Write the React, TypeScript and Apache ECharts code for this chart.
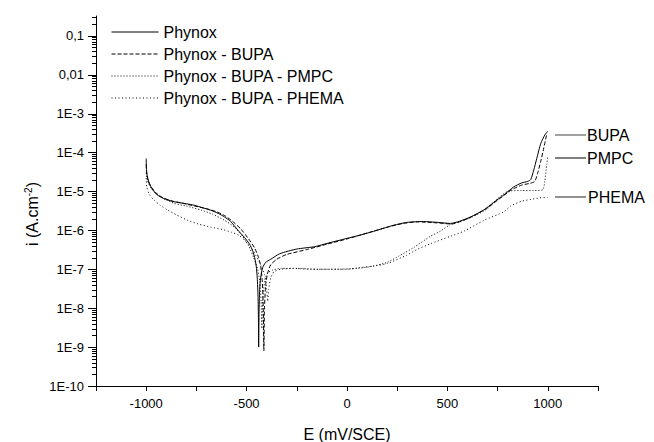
import React, { useEffect, useRef } from "react";
import * as echarts from "echarts";

const FONT = "'Liberation Sans', Arial, Helvetica, sans-serif";

const seriesNames = ["Phynox", "Phynox - BUPA", "Phynox - BUPA - PMPC", "Phynox - BUPA - PHEMA"];

const phynoxE = [-1000, -999, -995, -985, -970, -950, -925, -900, -860, -800, -760, -720, -680, -640, -610, -580, -543, -510, -485, -470, -460, -452, -447, -443, -441, -440, -438, -435, -430, -420, -405, -380, -335, -250, -160, -100, 0, 65, 150, 232, 300, 380, 450, 515, 560, 615, 680, 730, 780, 830, 870, 900, 915, 930, 945, 965, 985, 1000];
const phynoxI = [7e-5, 4e-5, 2.5e-5, 1.6e-5, 1.15e-5, 8.5e-6, 7e-6, 6.2e-6, 5.4e-6, 4.8e-6, 4.4e-6, 3.8e-6, 3.3e-6, 2.7e-6, 2.2e-6, 1.7e-6, 1e-6, 6.5e-7, 4.4e-7, 3e-7, 2e-7, 1.2e-7, 6e-8, 2e-8, 5e-9, 1e-9, 8e-9, 3e-8, 6e-8, 1.1e-7, 1.5e-7, 1.8e-7, 2.5e-7, 3.3e-7, 3.8e-7, 4.6e-7, 6.2e-7, 7.5e-7, 1.0e-6, 1.35e-6, 1.6e-6, 1.68e-6, 1.6e-6, 1.5e-6, 1.7e-6, 2.2e-6, 3.3e-6, 5.2e-6, 8e-6, 1.3e-5, 1.65e-5, 1.8e-5, 2e-5, 3.5e-5, 7e-5, 1.7e-4, 2.8e-4, 3.5e-4];

const bupaE = [-1000, -998, -990, -975, -950, -920, -880, -820, -760, -700, -650, -610, -570, -530, -490, -460, -440, -430, -422, -417, -414, -411, -405, -395, -380, -350, -300, -200, -100, 0, 100, 200, 280, 350, 450, 520, 580, 640, 700, 760, 820, 870, 910, 935, 950, 965, 980, 995];
const bupaI = [5e-5, 3e-5, 1.9e-5, 1.3e-5, 9e-6, 7e-6, 5.8e-6, 5e-6, 4.2e-6, 3.6e-6, 3e-6, 2.4e-6, 1.7e-6, 1.1e-6, 6e-7, 3.5e-7, 2e-7, 1.2e-7, 5e-8, 1e-8, 8e-10, 1e-8, 4e-8, 8e-8, 1.3e-7, 1.8e-7, 2.4e-7, 3.2e-7, 4.4e-7, 6e-7, 8.5e-7, 1.2e-6, 1.5e-6, 1.65e-6, 1.55e-6, 1.45e-6, 1.8e-6, 2.5e-6, 3.8e-6, 6.5e-6, 1.1e-5, 1.45e-5, 1.6e-5, 1.8e-5, 3e-5, 6e-5, 1.3e-4, 3e-4];

const pmpcE = [-1000, -995, -980, -960, -920, -860, -800, -727, -670, -610, -560, -520, -490, -465, -445, -435, -428, -424, -420, -410, -395, -370, -330, -250, -150, -50, 50, 130, 200, 260, 332, 415, 465, 515, 615, 700, 750, 800, 870, 930, 975, 985, 995, 1000];
const pmpcI = [3e-5, 2e-5, 1.3e-5, 9.8e-6, 6.8e-6, 4.9e-6, 4.2e-6, 3.3e-6, 2.6e-6, 1.8e-6, 1.2e-6, 7e-7, 4e-7, 2e-7, 1e-7, 5e-8, 1.5e-8, 3e-9, 1.5e-8, 5e-8, 8e-8, 9.5e-8, 1.05e-7, 1.05e-7, 1.0e-7, 1.0e-7, 1.05e-7, 1.2e-7, 1.5e-7, 2.2e-7, 3.6e-7, 7e-7, 9.5e-7, 1.4e-6, 2.1e-6, 3.6e-6, 6.5e-6, 1e-5, 1.05e-5, 1.05e-5, 1.1e-5, 1.8e-5, 5e-5, 8e-5];

const phemaE = [-1000, -997, -985, -960, -930, -893, -850, -793, -740, -677, -620, -577, -540, -510, -480, -455, -430, -410, -400, -395, -390, -380, -365, -330, -268, -180, -100, 0, 65, 130, 200, 298, 348, 415, 515, 582, 682, 782, 815, 870, 915, 960, 1000];
const phemaI = [2.2e-5, 1.3e-5, 8.5e-6, 5.9e-6, 4.4e-6, 3.3e-6, 2.5e-6, 1.8e-6, 1.45e-6, 1.2e-6, 1.05e-6, 9e-7, 7.5e-7, 5.6e-7, 3.8e-7, 2.3e-7, 1.3e-7, 7e-8, 3e-8, 1.5e-8, 3e-8, 6e-8, 8.5e-8, 1.0e-7, 1.05e-7, 1.0e-7, 1e-7, 1.0e-7, 1.1e-7, 1.2e-7, 1.4e-7, 2.3e-7, 3.2e-7, 4.5e-7, 7e-7, 9.5e-7, 1.8e-6, 3e-6, 4.2e-6, 5.6e-6, 6.2e-6, 6.8e-6, 7e-6];

const xTickLabels = [-1000, -500, 0, 500, 1000];
const yMajorTicks = [1e-10, 1e-9, 1e-8, 1e-7, 1e-6, 1e-5, 1e-4, 1e-3, 1e-2, 1e-1];
const yTickLabels = ["1E-10", "1E-9", "1E-8", "1E-7", "1E-6", "1E-5", "1E-4", "1E-3", "0,01", "0,1"];
const yMinorMultipliers = [2, 3, 4, 5, 6, 7, 8, 9];
const endLabels = ["BUPA", "PMPC", "PHEMA"];

const X_MIN = -1250;
const X_MAX = 1250;
const Y_MIN = 1e-10;
const Y_MAX = 0.32;

const zip = (xs: number[], ys: number[]) => xs.map((x, k) => [x, ys[k]]);

export default function App() {
  const ref = useRef<HTMLDivElement>(null);
  useEffect(() => {
    if (!ref.current) return;
    const chart = echarts.init(ref.current, null, { renderer: "svg" });
    const yLabel = (v: number) => {
      const idx = yMajorTicks.findIndex((t) => Math.abs(Math.log10(t) - Math.log10(v)) < 1e-6);
      return idx >= 0 ? yTickLabels[idx] : "";
    };
    const styles = [
      { type: "solid" as const },
      { type: [4, 2] },
      { type: [1, 2] },
      { type: [1, 2.5] },
    ];
    const datasets = [zip(phynoxE, phynoxI), zip(bupaE, bupaI), zip(pmpcE, pmpcI), zip(phemaE, phemaI)];
    const lineSeries = seriesNames.map((name, k) => ({
      name,
      type: "line",
      yAxisIndex: 0,
      data: datasets[k],
      symbol: "none",
      showSymbol: false,
      smooth: 0.2,
      lineStyle: { color: "#000", width: 1, ...styles[k] },
      itemStyle: { color: "#000" },
    }));
    const baseGraphics: any[] = [
      {
        id: "yname",
        type: "text",
        x: 32,
        y: 214,
        rotation: Math.PI / 2,
        style: {
          text: "i (A.cm{sup|-2})",
          fontSize: 16,
          fontFamily: FONT,
          fill: "#000",
          align: "center",
          verticalAlign: "middle",
          rich: {
            sup: { fontSize: 10, fontFamily: FONT, fill: "#000", padding: [0, 0, 8, 0] },
          },
        },
      },
      { id: "l1", type: "line", shape: { x1: 555, y1: 135, x2: 586, y2: 135 }, style: { stroke: "#444", lineWidth: 1 } },
      { id: "l2", type: "line", shape: { x1: 555, y1: 158, x2: 586, y2: 158 }, style: { stroke: "#000", lineWidth: 1 } },
      { id: "l3", type: "line", shape: { x1: 555, y1: 197, x2: 586, y2: 197 }, style: { stroke: "#555", lineWidth: 1.3 } },
      { id: "t1", type: "text", x: 587, y: 135, style: { text: endLabels[0], fontSize: 16, fontFamily: FONT, fill: "#000", verticalAlign: "middle" } },
      { id: "t2", type: "text", x: 587, y: 158, style: { text: endLabels[1], fontSize: 16, fontFamily: FONT, fill: "#000", verticalAlign: "middle" } },
      { id: "t3", type: "text", x: 588, y: 197, style: { text: endLabels[2], fontSize: 16, fontFamily: FONT, fill: "#000", verticalAlign: "middle" } },
    ];
    chart.setOption({
      animation: false,
      backgroundColor: "#fff",
      textStyle: { fontFamily: FONT },
      grid: { left: 96, right: 56, top: 16, bottom: 56, containLabel: false, outerBoundsMode: "none" },
      legend: {
        orient: "vertical",
        left: 106,
        top: 19,
        itemWidth: 47,
        itemHeight: 14,
        itemGap: 6,
        data: seriesNames,
        itemStyle: { opacity: 0, borderWidth: 0 },
        lineStyle: { width: 1 },
        textStyle: { fontSize: 16, color: "#000", fontFamily: FONT, lineHeight: 16 },
      },
      xAxis: {
        type: "value",
        min: X_MIN,
        max: X_MAX,
        interval: 250,
        name: "E (mV/SCE)",
        nameLocation: "middle",
        nameGap: 40,
        nameTextStyle: { fontSize: 16, color: "#000", fontFamily: FONT },
        axisLine: { show: true, onZero: false, lineStyle: { color: "#000", width: 1 } },
        axisTick: { show: true, length: 5, lineStyle: { color: "#000" } },
        axisLabel: {
          fontSize: 13,
          color: "#000",
          margin: 11,
          fontFamily: FONT,
          formatter: (v: number) => (xTickLabels.includes(v) ? String(v) : ""),
        },
        splitLine: { show: false },
      },
      yAxis: {
        type: "log",
        logBase: 10,
        min: Y_MIN,
        max: Y_MAX,
        position: "left",
        axisLine: { show: true, onZero: false, lineStyle: { color: "#000", width: 1 } },
        axisTick: { show: false },
        axisLabel: {
          customValues: yMajorTicks,
          fontSize: 13,
          color: "#000",
          margin: 12,
          fontFamily: FONT,
          formatter: yLabel,
        },
        splitLine: { show: false },
      },
      series: lineSeries,
      graphic: baseGraphics,
    });

    // y-axis tick marks (decades and 2..9 sub-decades), positioned through the log scale
    const tickGraphics: any[] = [];
    const addTick = (v: number, len: number, id: string) => {
      const p = chart.convertToPixel({ xAxisIndex: 0, yAxisIndex: 0 } as any, [X_MIN, v] as any) as any;
      if (!p || !isFinite(p[0]) || !isFinite(p[1])) return;
      const y = Math.round(p[1]) + 0.5;
      tickGraphics.push({
        id,
        type: "line",
        z: 100,
        silent: true,
        shape: { x1: p[0] - len, y1: y, x2: p[0], y2: y },
        style: { stroke: "#000", lineWidth: 1 },
      });
    };
    yMajorTicks.forEach((t, i) => {
      addTick(t, 8, "M" + i);
      yMinorMultipliers.forEach((m, j) => {
        const v = t * m;
        if (v <= Y_MAX) addTick(v, 4, "m" + i + "_" + j);
      });
    });
    chart.setOption({ graphic: [...baseGraphics, ...tickGraphics] });

    return () => chart.dispose();
  }, []);
  return <div ref={ref} style={{ position: "absolute", left: 0, top: 0, width: 654, height: 442 }} />;
}
